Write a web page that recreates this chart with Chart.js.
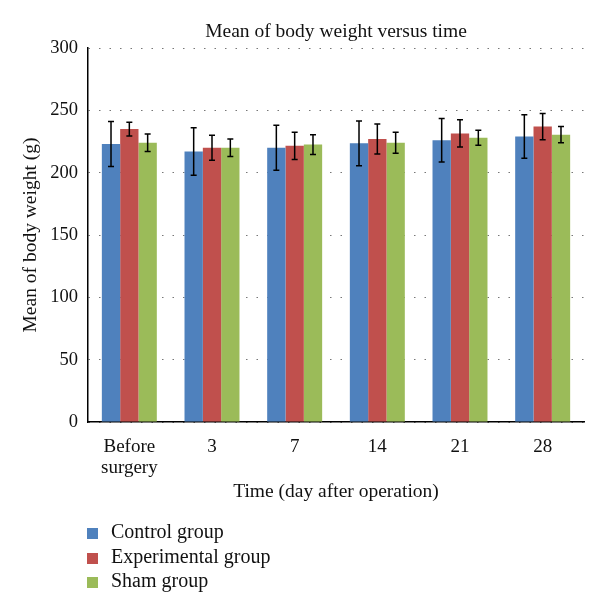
<!DOCTYPE html>
<html>
<head>
<meta charset="utf-8">
<script src="https://cdn.jsdelivr.net/npm/chart.js@4/dist/chart.umd.min.js"></script>
<style>
body{margin:0;background:#fff;}
#wrap{position:relative;width:600px;height:615px;}
#legend{position:absolute;left:87px;top:519px;font-family:"Liberation Serif",serif;font-size:20px;color:#111;}
#legend div{height:24.5px;line-height:24.5px;white-space:nowrap;}
#legend span{display:inline-block;width:11px;height:11px;margin-right:13px;vertical-align:-1px;}
</style>
</head>
<body>
<div id="wrap">
<canvas id="chartPeso" width="600" height="615"></canvas>
<div id="legend"></div>
</div>
<script>
// datos
var categorias = [['Before', 'surgery'], '3', '7', '14', '21', '28'];
var control = [223, 217, 220, 223.5, 226, 229];
var controlErr = [18, 19, 18, 18, 17.5, 17.5];
var experimental = [235, 220, 221.5, 227, 231.5, 237];
var experimentalErr = [5.5, 10, 11, 12, 11, 10.5];
var sham = [224, 220, 222.5, 224, 228, 230.5];
var shamErr = [7, 7, 8, 8.5, 6, 6.5];
var grupos = ['Control group', 'Experimental group', 'Sham group'];
var colores = ['#4F81BD', '#C0504D', '#9BBB59'];
var errores = [controlErr, experimentalErr, shamErr];

var fuente = '"Liberation Serif", serif';

var errorBars = {
  id: 'errorBars',
  afterDatasetsDraw: function(chart){
    var ctx = chart.ctx;
    var y = chart.scales.y;
    ctx.save();
    ctx.strokeStyle = '#000';
    ctx.lineWidth = 1.5;
    chart.data.datasets.forEach(function(ds, i){
      var meta = chart.getDatasetMeta(i);
      meta.data.forEach(function(bar, j){
        var v = ds.data[j], e = errores[i][j];
        var top = y.getPixelForValue(v + e);
        var bot = y.getPixelForValue(v - e);
        ctx.beginPath();
        ctx.moveTo(bar.x, top); ctx.lineTo(bar.x, bot);
        ctx.moveTo(bar.x - 3, top); ctx.lineTo(bar.x + 3, top);
        ctx.moveTo(bar.x - 3, bot); ctx.lineTo(bar.x + 3, bot);
        ctx.stroke();
      });
    });
    ctx.restore();
  }
};

var ctx = document.getElementById('chartPeso').getContext('2d');
var chartPeso = new Chart(ctx, {
  type: 'bar',
  data: {
    labels: categorias,
    datasets: [
      {label: grupos[0], data: control, backgroundColor: colores[0]},
      {label: grupos[1], data: experimental, backgroundColor: colores[1]},
      {label: grupos[2], data: sham, backgroundColor: colores[2]}
    ]
  },
  options: {
    responsive: false,
    animation: false,
    layout: {padding: {left: 0, right: 16, top: 0, bottom: 100}},
    datasets: {bar: {barPercentage: 1, categoryPercentage: 0.665, borderWidth: 0}},
    plugins: {
      legend: {display: false},
      tooltip: {enabled: false},
      title: {
        display: true,
        text: 'Mean of body weight versus time',
        fullSize: false,
        color: '#111',
        font: {family: fuente, size: 19.5, weight: 'normal'},
        padding: {top: 20.3, bottom: 4.3}
      }
    },
    scales: {
      x: {
        afterFit: function(s){ s.height = 93; },
        grid: {display: false, drawTicks: false},
        border: {display: true, color: '#000', width: 1.5},
        ticks: {color: '#111', padding: 14, font: {family: fuente, size: 19, lineHeight: 1.12}},
        title: {
          display: true,
          text: 'Time (day after operation)',
          color: '#111',
          font: {family: fuente, size: 19.5},
          padding: {top: 0, bottom: 11.3}
        }
      },
      y: {
        min: 0,
        max: 300,
        afterFit: function(s){ s.width = 88; },
        ticks: {stepSize: 50, color: '#111', padding: 10, font: {family: fuente, size: 18.5}},
        grid: {
          color: '#777',
          lineWidth: 1,
          drawTicks: false
        },
        border: {display: true, color: '#000', width: 1.5, dash: [1.5, 9]},
        title: {
          display: true,
          text: 'Mean of body weight (g)',
          color: '#111',
          font: {family: fuente, size: 19.5},
          padding: {top: 19.5, bottom: 0}
        }
      }
    }
  },
  plugins: [errorBars]
});

// leyenda vertical en html
var leg = document.getElementById('legend');
chartPeso.data.datasets.forEach(function(ds){
  var row = document.createElement('div');
  var sq = document.createElement('span');
  sq.style.background = ds.backgroundColor;
  row.appendChild(sq);
  row.appendChild(document.createTextNode(ds.label));
  leg.appendChild(row);
});
</script>
</body>
</html>
